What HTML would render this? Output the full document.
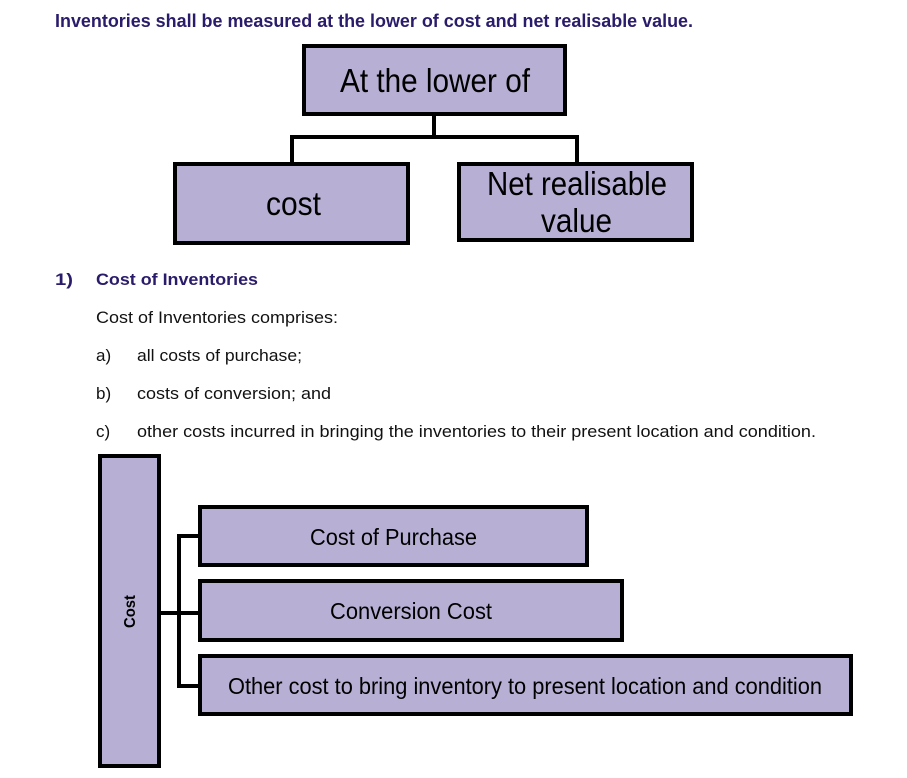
<!DOCTYPE html>
<html><head><meta charset="utf-8"><style>
html,body{margin:0;padding:0;background:#fff;}
svg{display:block;}
text{font-family:"Liberation Sans Narrow","Liberation Sans",sans-serif;}
</style></head><body>
<svg width="907" height="778" viewBox="0 0 907 778" xmlns="http://www.w3.org/2000/svg">
<g fill="#2b1b6b" font-weight="bold">
<text x="55" y="27" font-size="18" textLength="638" lengthAdjust="spacingAndGlyphs">Inventories shall be measured at the lower of cost and net realisable value.</text>
<text x="55" y="285" font-size="17" textLength="18" lengthAdjust="spacingAndGlyphs">1)</text>
<text x="96" y="285" font-size="17" textLength="162" lengthAdjust="spacingAndGlyphs">Cost of Inventories</text>
</g>
<g fill="#111" font-size="17">
<text x="96" y="323" textLength="242" lengthAdjust="spacingAndGlyphs">Cost of Inventories comprises:</text>
<text x="96" y="361">a)</text>
<text x="137" y="361" textLength="165" lengthAdjust="spacingAndGlyphs">all costs of purchase;</text>
<text x="96" y="399">b)</text>
<text x="137" y="399" textLength="194" lengthAdjust="spacingAndGlyphs">costs of conversion; and</text>
<text x="96" y="437">c)</text>
<text x="137" y="437" textLength="679" lengthAdjust="spacingAndGlyphs">other costs incurred in bringing the inventories to their present location and condition.</text>
</g>
<g fill="#b8b0d4" stroke="#000" stroke-width="4">
<rect x="304" y="46" width="261" height="68"/>
<rect x="175" y="164" width="233" height="79"/>
<rect x="459" y="164" width="233" height="76"/>
<rect x="100" y="456" width="59" height="310"/>
<rect x="200" y="507" width="387" height="58"/>
<rect x="200" y="581" width="422" height="59"/>
<rect x="200" y="656" width="651" height="58"/>
</g>
<g fill="none" stroke="#000" stroke-width="4">
<path d="M434 114V137M292 164V137H577V164"/>
<path d="M159 613H200M200 536H179V686H200"/>
</g>
<g fill="#000" font-size="33">
<text x="340" y="92" textLength="190" lengthAdjust="spacingAndGlyphs">At the lower of</text>
<text x="266" y="215" textLength="55" lengthAdjust="spacingAndGlyphs">cost</text>
<text x="487" y="195" textLength="180" lengthAdjust="spacingAndGlyphs">Net realisable</text>
<text x="541" y="232" textLength="71" lengthAdjust="spacingAndGlyphs">value</text>
</g>
<g fill="#000" font-size="23">
<text x="310" y="545" textLength="167" lengthAdjust="spacingAndGlyphs">Cost of Purchase</text>
<text x="330" y="619" textLength="162" lengthAdjust="spacingAndGlyphs">Conversion Cost</text>
<text x="228" y="694" textLength="594" lengthAdjust="spacingAndGlyphs">Other cost to bring inventory to present location and condition</text>
</g>
<text transform="translate(135,628) rotate(-90)" font-size="16" font-weight="bold" fill="#000" textLength="33" lengthAdjust="spacingAndGlyphs">Cost</text>
</svg>
</body></html>
